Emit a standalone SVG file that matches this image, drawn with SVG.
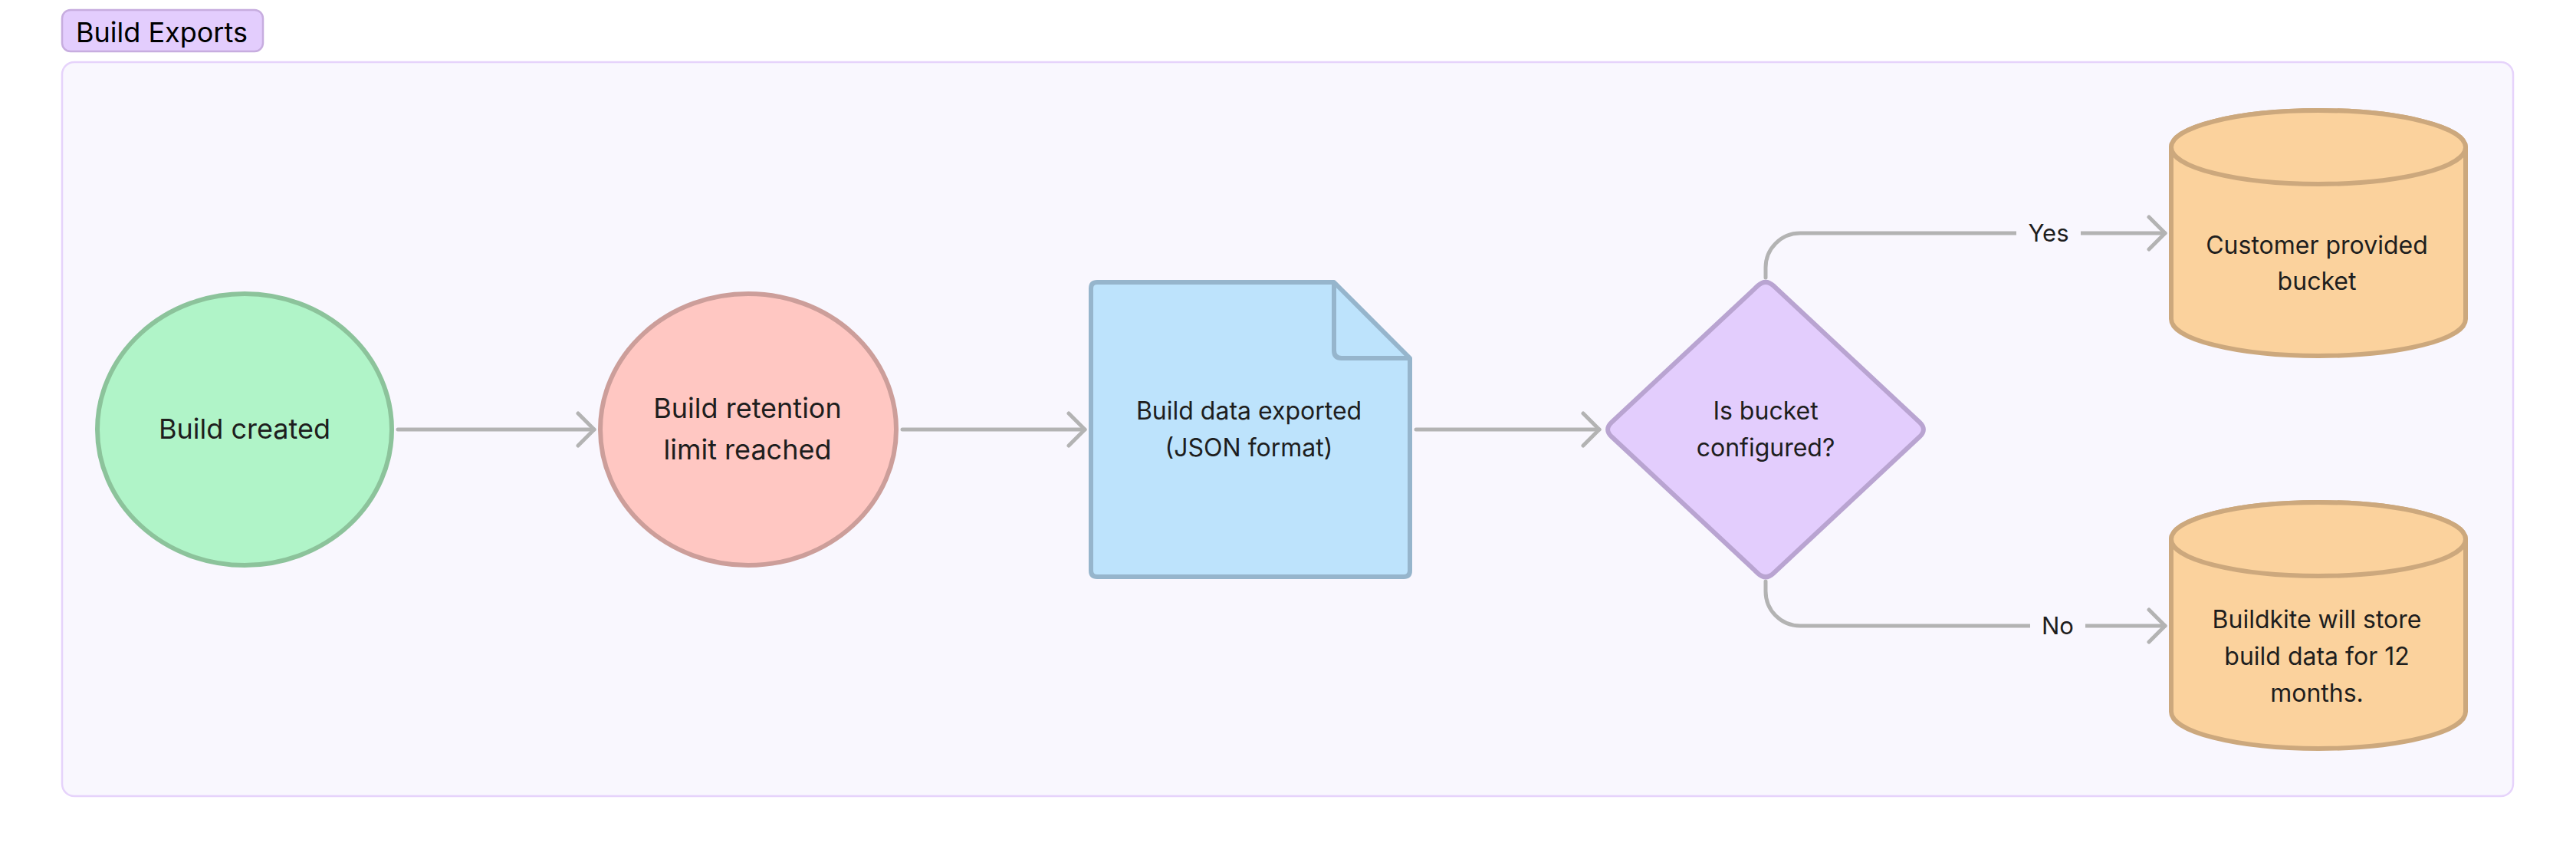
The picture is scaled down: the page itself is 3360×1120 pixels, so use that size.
<svg xmlns="http://www.w3.org/2000/svg" width="3360" height="1120" viewBox="0 0 3360 1120">
<defs>
<style>
.t{font-family:Inter,"Noto Sans","Liberation Sans",sans-serif;fill:#1e1e1e;text-anchor:middle}
.big{font-size:36px}
.mid{font-size:32px}
.lbl{font-size:31px}
.node{stroke-width:6;stroke-linejoin:round}
.conn{fill:none;stroke:#b3b3b3;stroke-width:5;stroke-linecap:round;stroke-linejoin:round}
.lblbg{fill:#f9f7fe}
</style>
<marker id="arr" viewBox="-3 -3 27 48" refX="21" refY="21" markerWidth="27" markerHeight="48" markerUnits="userSpaceOnUse" orient="auto">
<path d="M0,0 L21,21 L0,42" fill="none" stroke="#b3b3b3" stroke-width="5" stroke-linecap="round" stroke-linejoin="round"/>
</marker>
</defs>
<rect width="3360" height="1120" fill="#ffffff"/>
<g id="group-build-exports">
<rect x="81" y="81" width="3197" height="957" rx="16" fill="#f9f7fe" stroke="#e6d3fb" stroke-width="2.5"/>
<rect x="81" y="13" width="262" height="54" rx="11" fill="#e3cdfd" stroke="#c7addf" stroke-width="2.5"/>
<text x="99" y="55" style="font-family:Inter,'Liberation Sans',sans-serif;font-size:36px;fill:#000">Build Exports</text>
</g>
<g id="connectors">
<path class="conn" d="M519 560 L775 560" marker-end="url(#arr)"/>
<path class="conn" d="M1177 560 L1415 560" marker-end="url(#arr)"/>
<path class="conn" d="M1847 560 L2086 560" marker-end="url(#arr)"/>
<path class="conn" d="M2303 362 L2303 349 A45 45 0 0 1 2348 304 L2824 304" marker-end="url(#arr)"/>
<rect class="lblbg" x="2630" y="282" width="84" height="44"/>
<text class="t lbl" x="2672" y="315">Yes</text>
<path class="conn" d="M2303 758 L2303 771 A45 45 0 0 0 2348 816 L2824 816" marker-end="url(#arr)"/>
<rect class="lblbg" x="2648" y="794" width="72" height="44"/>
<text class="t lbl" x="2684" y="827">No</text>
</g>
<g id="node-build-created">
<ellipse class="node" cx="319" cy="560" rx="192" ry="177" fill="#b0f4c8" stroke="#8cc39b"/>
<text class="t big" x="319" y="572">Build created</text>
</g>
<g id="node-retention">
<ellipse class="node" cx="976" cy="560" rx="193" ry="177" fill="#ffc7c2" stroke="#cc9e9a"/>
<text class="t big" x="975" y="545">Build retention</text>
<text class="t big" x="975" y="599">limit reached</text>
</g>
<g id="node-exported">
<path class="node" d="M1431 368 L1740 368 L1839 467 L1839 744 Q1839 752 1831 752 L1431 752 Q1423 752 1423 744 L1423 376 Q1423 368 1431 368 Z" fill="#bde3fc" stroke="#96b5cc"/>
<path class="node" d="M1740 368 L1740 457 Q1740 467 1750 467 L1839 467" fill="none" stroke="#96b5cc"/>
<text class="t mid" x="1629" y="547">Build data exported</text>
<text class="t mid" x="1629" y="595">(JSON format)</text>
</g>
<g id="node-decision">
<path class="node" d="M2292.8 372.55 Q2303 363 2313.2 372.55 L2503.8 550.45 Q2514 560 2503.8 569.55 L2313.2 747.45 Q2303 757 2292.8 747.45 L2102.2 569.55 Q2092 560 2102.2 550.45 Z" fill="#e3cdfd" stroke="#b9a4d1"/>
<text class="t mid" x="2303" y="547">Is bucket</text>
<text class="t mid" x="2303" y="595">configured?</text>
</g>
<g id="node-customer-bucket">
<path class="node" d="M2832 192 A192 48 0 0 1 3216 192 L3216 416 A192 48 0 0 1 2832 416 Z" fill="#fbd29d" stroke="#cca87d"/>
<ellipse class="node" cx="3024" cy="192" rx="192" ry="48" fill="#fbd29d" stroke="#cca87d"/>
<text class="t mid" x="3022" y="331">Customer provided</text>
<text class="t mid" x="3022" y="378">bucket</text>
</g>
<g id="node-buildkite-store">
<path class="node" d="M2832 703 A192 48 0 0 1 3216 703 L3216 928 A192 48 0 0 1 2832 928 Z" fill="#fbd29d" stroke="#cca87d"/>
<ellipse class="node" cx="3024" cy="703" rx="192" ry="48" fill="#fbd29d" stroke="#cca87d"/>
<text class="t mid" x="3022" y="819">Buildkite will store</text>
<text class="t mid" x="3022" y="867">build data for 12</text>
<text class="t mid" x="3022" y="915">months.</text>
</g>
</svg>
